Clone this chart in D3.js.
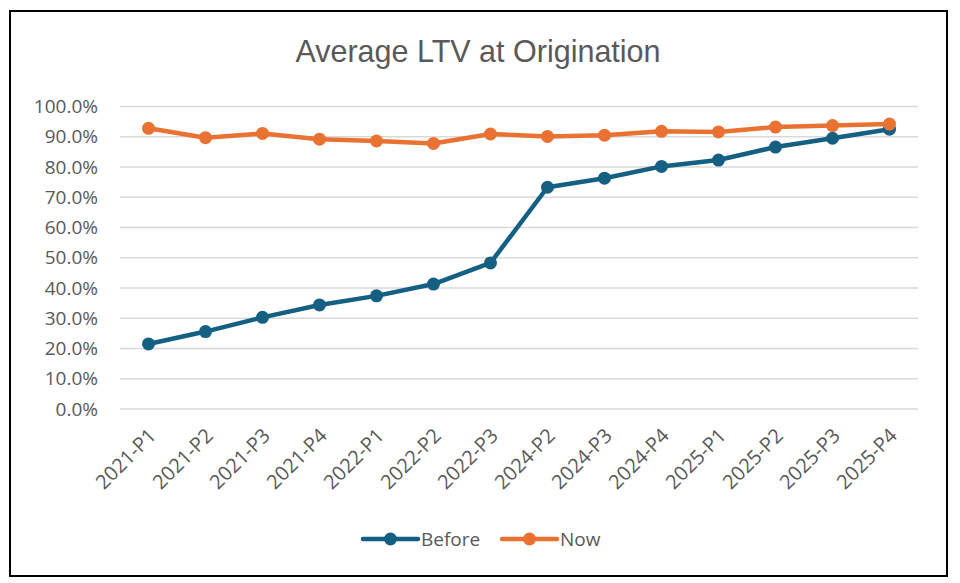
<!DOCTYPE html>
<meta charset="utf-8">
<head>
<style>
  body { margin: 0; background: #fff; }
  text { fill: #595959; }
</style>
</head>
<body>
    <!-- Create a div where the graph will take place -->
    <div id="my_dataviz"></div>

    <!-- Load d3.js -->
    <script src="https://d3js.org/d3.v7.min.js"></script>

<script>
    // chart data
    const periods = ["2021-P1", "2021-P2", "2021-P3", "2021-P4", "2022-P1", "2022-P2", "2022-P3",
                     "2024-P2", "2024-P3", "2024-P4", "2025-P1", "2025-P2", "2025-P3", "2025-P4"];
    const before = [0.215, 0.256, 0.303, 0.344, 0.374, 0.413, 0.483, 0.733, 0.763, 0.802, 0.823, 0.866, 0.895, 0.925];
    const now = [0.928, 0.897, 0.911, 0.892, 0.886, 0.878, 0.909, 0.901, 0.905, 0.918, 0.916, 0.932, 0.937, 0.942];
    const yTicks = [0, 0.1, 0.2, 0.3, 0.4, 0.5, 0.6, 0.7, 0.8, 0.9, 1.0];
    const seriesNames = ["Before", "Now"];

    const W = 960, H = 583;
    const margin = {top: 106.5, right: 42, bottom: 174, left: 120};

    const svg = d3.select("#my_dataviz")
      .append("svg")
        .attr("width", W)
        .attr("height", H)
        .style("font-family", "'Open Sans', sans-serif");

    // frame
    svg.append("rect")
      .attr("x", 10).attr("y", 11)
      .attr("width", 937).attr("height", 565)
      .attr("fill", "none")
      .attr("stroke", "#000")
      .attr("stroke-width", 2);

    // title
    svg.append("text")
      .attr("x", 478)
      .attr("y", 62)
      .attr("text-anchor", "middle")
      .style("font-family", "'Liberation Sans', sans-serif")
      .style("font-size", "30.5px")
      .text("Average LTV at Origination");

    const x = d3.scaleBand()
      .domain(periods)
      .range([margin.left, W - margin.right]);

    const y = d3.scaleLinear()
      .domain([0, 1])
      .range([H - margin.bottom, margin.top]);

    // gridlines
    svg.append("g")
      .selectAll("line")
      .data(yTicks)
      .join("line")
        .attr("x1", margin.left)
        .attr("x2", W - margin.right)
        .attr("y1", d => y(d))
        .attr("y2", d => y(d))
        .attr("stroke", "#d9d9d9")
        .attr("stroke-width", 1.3);

    // Y axis labels
    const yAxis = svg.append("g")
      .attr("transform", "translate(98, 0)")
      .call(d3.axisLeft(y).tickValues(yTicks).tickFormat(d3.format(".1%")).tickSize(0).tickPadding(0));
    yAxis.select(".domain").remove();
    yAxis.selectAll("text")
      .style("font-size", "19px")
      .style("font-family", "'Open Sans', sans-serif")
      .attr("fill", "#595959");

    // X axis labels
    const xAxis = svg.append("g")
      .attr("transform", `translate(0, ${H - margin.bottom})`)
      .call(d3.axisBottom(x).tickSize(0).tickPadding(0));
    xAxis.select(".domain").remove();
    xAxis.selectAll("text")
      .style("font-size", "20px")
      .style("font-family", "'Open Sans', sans-serif")
      .attr("fill", "#595959")
      .attr("text-anchor", "end")
      .attr("dy", "0.35em")
      .attr("transform", "translate(4, 23) rotate(-45)");

    const color = d3.scaleOrdinal()
      .domain(seriesNames)
      .range(["#156082", "#E97132"]);

    const line = d3.line()
      .x((d, i) => x(periods[i]) + x.bandwidth() / 2)
      .y(d => y(d));

    [[ "Before", before ], [ "Now", now ]].forEach(([name, vals]) => {
      const g = svg.append("g");
      g.append("path")
        .datum(vals)
        .attr("d", line)
        .attr("fill", "none")
        .attr("stroke", color(name))
        .attr("stroke-width", 4.5)
        .attr("stroke-linejoin", "round");
      g.selectAll("circle")
        .data(vals)
        .join("circle")
          .attr("cx", (d, i) => x(periods[i]) + x.bandwidth() / 2)
          .attr("cy", d => y(d))
          .attr("r", 6.5)
          .attr("fill", color(name));
    });

    // legend
    const legendX = [363, 502];
    const legend = svg.append("g")
      .selectAll("g")
      .data(seriesNames)
      .join("g")
        .attr("transform", (d, i) => `translate(${legendX[i]}, 539)`);
    legend.append("line")
      .attr("x1", 0).attr("x2", 55)
      .attr("stroke", d => color(d))
      .attr("stroke-width", 4.5)
      .attr("stroke-linecap", "round");
    legend.append("circle")
      .attr("cx", 27.5)
      .attr("r", 6.5)
      .attr("fill", d => color(d));
    legend.append("text")
      .attr("x", 58)
      .attr("dy", "0.35em")
      .style("font-size", "19px")
      .text(d => d);
</script>
</body>
